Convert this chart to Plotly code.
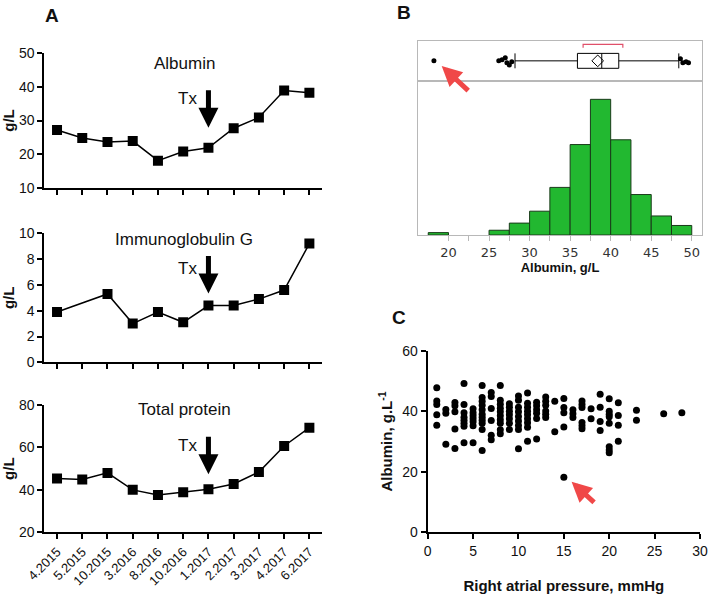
import plotly.graph_objects as go

W, H = 709, 596
FONT = "Arial, Liberation Sans, sans-serif"

# Panel A: time course
DATES = ["4.2015", "5.2015", "10.2015", "3.2016", "8.2016", "10.2016",
         "1.2017", "2.2017", "3.2017", "4.2017", "6.2017"]
ALBUMIN = [27.2, 24.8, 23.6, 23.9, 18.1, 20.8, 21.9, 27.7, 30.9, 38.9, 38.2]
IGG = [3.9, None, 5.3, 3.0, 3.9, 3.1, 4.4, 4.4, 4.9, 5.6, 9.2]
TOTAL_PROTEIN = [45.3, 44.9, 48.0, 40.0, 37.6, 38.9, 40.3, 42.8, 48.4, 60.7, 69.3]
TX_DATE = "1.2017"

# Panel B: albumin distribution
BIN_CENTERS = [18.75, 26.25, 28.75, 31.25, 33.75, 36.25, 38.75, 41.25, 43.75, 46.25, 48.75]
BIN_COUNTS = [1, 2, 5, 10, 20, 38, 57, 40, 17, 8, 4]
BOX_Q1, BOX_MEDIAN, BOX_Q3 = 35.9, 38.9, 41.0
BOX_LOW, BOX_HIGH = 28.2, 48.4
BOX_MEAN = 38.4
SHORTEST_HALF = [36.6, 41.5]
OUTLIERS = [18.2, 26.2, 26.6, 27.0, 27.2, 27.5, 27.8, 48.6, 48.9, 49.3, 49.6]
OUTLIER_JITTER = [0, 0, 0.05, 0.15, -0.1, -0.2, -0.05, 0.1, -0.1, -0.05, -0.1]

# Panel C: right atrial pressure vs albumin
RAP = ([1] * 5 + [2] * 3 + [3] * 5 + [4] * 8 + [5] * 7 + [6] * 11 + [7] * 6
       + [8] * 10 + [9] * 7 + [10] * 9 + [11] * 9 + [12] * 6 + [13] * 6 + [14] * 2
       + [15] * 5 + [16] * 3 + [17] * 6 + [18] * 2 + [19] * 4 + [20] * 8 + [21] * 4
       + [23] * 2 + [26] + [28])
ALB_C = [47.8, 43.4, 42.2, 38.8, 35.4,
         40.6, 39.3, 29.1,
         42.9, 41.8, 39.8, 34.1, 27.7,
         49.2, 42.2, 39.5, 38.0, 37.0, 36.0, 35.0, 29.6,
         40.8, 39.5, 38.5, 37.5, 36.5, 35.2, 29.6,
         48.5, 44.5, 43.3, 42.0, 40.5, 39.0, 38.0, 37.0, 36.0, 34.0, 27.0,
         46.2, 44.9, 40.9, 36.9, 32.1, 30.6,
         48.5, 43.6, 42.3, 41.0, 39.8, 38.5, 37.2, 36.0, 33.9, 32.6,
         42.5, 41.3, 40.0, 38.8, 37.5, 36.0, 34.0,
         45.0, 43.6, 41.3, 39.8, 38.3, 36.8, 35.3, 34.0, 27.6,
         46.0, 42.6, 41.3, 40.0, 38.8, 37.5, 36.2, 34.7, 30.1,
         43.0, 41.8, 40.5, 39.3, 37.6, 30.8,
         44.7, 43.3, 42.0, 40.1, 39.0, 37.9,
         43.3, 33.2,
         44.2, 41.2, 39.5, 34.8, 18.2,
         40.5, 39.2, 37.9,
         43.4, 42.2, 41.2, 36.3, 35.2, 34.2,
         40.8, 37.5,
         45.6, 41.3, 36.6, 33.6,
         44.1, 40.0, 39.0, 38.2, 36.0, 28.3, 27.2, 26.3,
         42.8, 38.6, 35.4, 30.1,
         40.3, 37.0,
         39.2,
         39.5]


def px_x(p):
    return p / W


def px_y(p):
    return 1 - p / H


def label(text, x, y, size):
    return dict(x=px_x(x), y=px_y(y), xref="paper", yref="paper", text=text,
                xanchor="center", yanchor="middle", showarrow=False,
                font=dict(family=FONT, size=size, color="#111"))


fig = go.Figure()

series_a = [
    (ALBUMIN, "x", "y", "Albumin", 20, 49, 64),
    (IGG, "x2", "y2", "Immunoglobulin G", 12, 37, 239),
    (TOTAL_PROTEIN, "x3", "y3", "Total protein", 15, 44, 409),
]

tx_idx = DATES.index(TX_DATE)
annotations = []
for vals, xa, ya, name, tip_shift, tx_shift, title_y in series_a:
    fig.add_trace(go.Scatter(
        x=DATES, y=vals, xaxis=xa, yaxis=ya, mode="lines+markers",
        connectgaps=True,
        line=dict(color="black", width=1.5),
        marker=dict(symbol="square", size=10, color="black"),
        showlegend=False,
    ))
    tx_val = vals[tx_idx]
    annotations.append(dict(
        x=tx_idx, y=tx_val, xref=xa, yref=ya, yshift=tip_shift,
        ax=0, ay=-39, showarrow=True, arrowhead=2, arrowsize=0.8,
        arrowwidth=5, arrowcolor="black", text="", standoff=0,
    ))
    annotations.append(dict(
        x=tx_idx, y=tx_val, xref=xa, yref=ya, xshift=-21, yshift=tx_shift,
        text="Tx", showarrow=False, font=dict(family=FONT, size=17, color="#111"),
    ))
    annotations.append(label(name, 184, title_y, 17))

# Panel B: box plot strip
fig.add_trace(go.Box(
    y=[0], q1=[BOX_Q1], median=[BOX_MEDIAN], q3=[BOX_Q3],
    lowerfence=[BOX_LOW], upperfence=[BOX_HIGH], orientation="h",
    xaxis="x4", yaxis="y4", width=0.74, whiskerwidth=1,
    line=dict(color="black", width=1), fillcolor="white",
    boxpoints=False, showlegend=False,
))
fig.add_trace(go.Scatter(
    x=[BOX_MEAN], y=[0], xaxis="x4", yaxis="y4", mode="markers",
    marker=dict(symbol="diamond-open", size=9, color="black", line=dict(width=1)),
    showlegend=False,
))
fig.add_trace(go.Scatter(
    x=OUTLIERS, y=OUTLIER_JITTER, xaxis="x4", yaxis="y4", mode="markers",
    marker=dict(size=5, color="black"), showlegend=False,
))
fig.add_trace(go.Scatter(
    x=[SHORTEST_HALF[0], SHORTEST_HALF[0], SHORTEST_HALF[1], SHORTEST_HALF[1]],
    y=[0.65, 0.82, 0.82, 0.65], xaxis="x4", yaxis="y4", mode="lines",
    line=dict(color="#e0506a", width=1.2), showlegend=False,
))

# Panel B: histogram
fig.add_trace(go.Bar(
    x=BIN_CENTERS, y=BIN_COUNTS, width=2.5, xaxis="x5", yaxis="y5",
    marker=dict(color="#22b830", line=dict(color="#1a3a1a", width=1)),
    showlegend=False,
))

# Panel C: scatter
fig.add_trace(go.Scatter(
    x=RAP, y=ALB_C, xaxis="x6", yaxis="y6", mode="markers",
    marker=dict(size=7, color="black"), showlegend=False,
))

annotations += [
    dict(x=px_x(441.7), y=px_y(66), xref="paper", yref="paper", ax=28, ay=26,
         showarrow=True, arrowhead=2, arrowsize=0.8, arrowwidth=5,
         arrowcolor="#f04848", text="", standoff=0),
    dict(x=15.85, y=16.7, xref="x6", yref="y6", ax=24, ay=22,
         showarrow=True, arrowhead=2, arrowsize=0.8, arrowwidth=5,
         arrowcolor="#f04848", text="", standoff=0),
    label("<b>A</b>", 52, 16, 19),
    label("<b>B</b>", 404, 13, 19),
    label("<b>C</b>", 399, 318, 19),
]

a_x = [px_x(44.4), px_x(322)]
axis_a = dict(
    showline=True, linecolor="black", linewidth=2, ticks="outside",
    ticklen=5, tickwidth=2, tickcolor="black", showgrid=False, zeroline=False,
    tickfont=dict(family=FONT, size=14, color="#111"), automargin=False,
)
xcat = dict(axis_a, type="category", categoryorder="array", categoryarray=DATES,
            range=[-0.5, 10.5], domain=a_x)
ytitle = dict(text="<b>g/L</b>", font=dict(family=FONT, size=15, color="#111"), standoff=6)

gray = "#b8b8b8"
box_axis = dict(showline=True, mirror=True, linecolor=gray, linewidth=1.2,
                showgrid=False, zeroline=False, automargin=False)

fig.update_layout(
    width=W, height=H, margin=dict(l=0, r=0, t=0, b=0, autoexpand=False),
    paper_bgcolor="white", plot_bgcolor="white",
    font=dict(family=FONT, color="#111"),
    xaxis=dict(xcat, anchor="y", showticklabels=False),
    yaxis=dict(axis_a, anchor="x", domain=[px_y(188), px_y(53)], range=[10, 50],
               dtick=10, title=ytitle),
    xaxis2=dict(xcat, anchor="y2", showticklabels=False),
    yaxis2=dict(axis_a, anchor="x2", domain=[px_y(362.3), px_y(233.3)], range=[0, 10],
                dtick=2, title=ytitle),
    xaxis3=dict(xcat, anchor="y3", tickangle=-45,
                tickfont=dict(family=FONT, size=13, color="#111")),
    yaxis3=dict(axis_a, anchor="x3", domain=[px_y(532.3), px_y(405)], range=[20, 80],
                dtick=20, title=ytitle),
    xaxis4=dict(box_axis, anchor="y4", domain=[px_x(417.7), px_x(702.3)],
                range=[16.2, 51.3], showticklabels=False),
    yaxis4=dict(box_axis, anchor="x4", domain=[px_y(81), px_y(40.7)], range=[-1, 1],
                showticklabels=False),
    xaxis5=dict(box_axis, anchor="y5", domain=[px_x(417.7), px_x(702.3)],
                range=[16.2, 51.3],
                ticks="outside", ticklen=5, tickcolor=gray,
                tickvals=[20, 22.5, 25, 27.5, 30, 32.5, 35, 37.5, 40, 42.5, 45, 47.5, 50],
                ticktext=["20", "", "25", "", "30", "", "35", "", "40", "", "45", "", "50"],
                tickfont=dict(family="DejaVu Sans, sans-serif", size=13, color="#333"),
                title=dict(text="<b>Albumin, g/L</b>", standoff=4,
                           font=dict(family=FONT, size=13, color="#111"))),
    yaxis5=dict(box_axis, anchor="x5", domain=[px_y(235), px_y(81)], range=[0, 64.7],
                showticklabels=False),
    xaxis6=dict(axis_a, anchor="y6", domain=[px_x(427.7), px_x(700)], range=[0, 30],
                dtick=5,
                title=dict(text="<b>Right atrial pressure, mmHg</b>", standoff=22,
                           font=dict(family=FONT, size=15, color="#111"))),
    yaxis6=dict(axis_a, anchor="x6", domain=[px_y(532.3), px_y(350.7)], range=[0, 60],
                dtick=20,
                title=dict(text="<b>Albumin, g.L<sup>-1</sup></b>", standoff=6,
                           font=dict(family=FONT, size=15, color="#111"))),
    annotations=annotations,
)

# the page body has a default 8px margin; drop it so the figure sits at (0, 0)
fig.write_html("out.html", config={"displayModeBar": False},
               post_script="document.body.style.margin='0';")
